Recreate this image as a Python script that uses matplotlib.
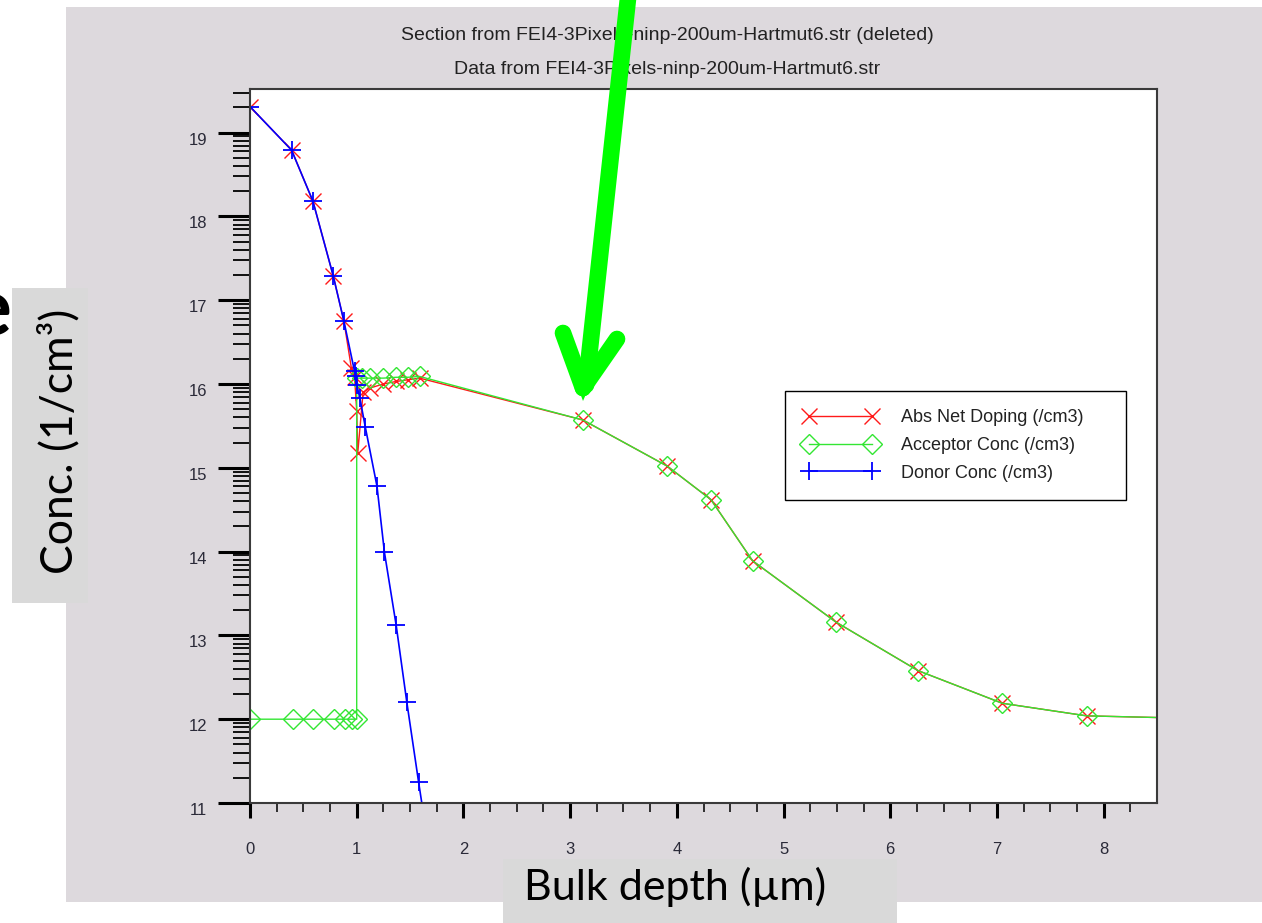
import matplotlib
matplotlib.use("Agg")
import matplotlib.pyplot as plt
import numpy as np
from matplotlib.lines import Line2D
from matplotlib.patches import Rectangle, Polygon

# doping profile along the cut line, log10 of concentration (1/cm3)
net_x = [0, 0.39, 0.59, 0.78, 0.88, 0.95, 0.98, 1.0, 1.01, 1.06, 1.12, 1.25,
         1.37, 1.48, 1.59, 3.12, 3.91, 4.32, 4.71, 5.49, 6.26, 7.05, 7.84, 8.5]
net_y = [19.31, 18.79, 18.18, 17.29, 16.75, 16.19, 16.08, 15.68, 15.18, 15.9,
         15.95, 16.0, 16.03, 16.05, 16.07, 15.57, 15.02, 14.62, 13.89, 13.16,
         12.58, 12.19, 12.04, 12.02]

acc_x = [0, 0.40, 0.59, 0.79, 0.89, 0.96, 1.0, 1.0, 1.05, 1.12, 1.25, 1.37,
         1.48, 1.59, 3.12, 3.91, 4.32, 4.71, 5.49, 6.26, 7.05, 7.84, 8.5]
acc_y = [12.0, 12.0, 12.0, 12.0, 12.0, 12.0, 12.0, 16.07, 16.07, 16.07, 16.07,
         16.08, 16.08, 16.09, 15.57, 15.02, 14.62, 13.89, 13.16, 12.58, 12.19,
         12.04, 12.02]

don_x = [0, 0.39, 0.59, 0.78, 0.88, 0.98, 0.99, 1.0, 1.03, 1.08, 1.19, 1.26,
         1.37, 1.47, 1.58, 1.67]
don_y = [19.31, 18.79, 18.18, 17.29, 16.75, 16.15, 16.09, 15.99, 15.83, 15.49,
         14.78, 13.99, 13.12, 12.2, 11.25, 10.5]

labels = ["Abs Net Doping (/cm3)", "Acceptor Conc (/cm3)", "Donor Conc (/cm3)"]
title_1 = "Section from FEI4-3Pixels-ninp-200um-Hartmut6.str (deleted)"
title_2 = "Data from FEI4-3Pixels-ninp-200um-Hartmut6.str"

W, H = 1262, 923


def px(x, y):
    # pixel position (from top-left) -> figure fraction
    return (x / W, 1 - y / H)


fig = plt.figure(figsize=(W / 100, H / 100), dpi=100)
fig.patch.set_facecolor("white")

# grey plot window behind the axes
fig.add_artist(Rectangle(px(66, 902), (W - 66) / W, (902 - 7) / H,
                         transform=fig.transFigure, facecolor="#ddd9dd",
                         edgecolor="none", zorder=-2))
# slide label boxes
fig.add_artist(Rectangle(px(12, 603), (88 - 12) / W, (603 - 288) / H,
                         transform=fig.transFigure, facecolor="#d9d9d9",
                         edgecolor="none", zorder=-1))
fig.add_artist(Rectangle(px(503, 923), (897 - 503) / W, (923 - 859) / H,
                         transform=fig.transFigure, facecolor="#d9d9d9",
                         edgecolor="none", zorder=-1))

ax = fig.add_axes([250 / W, 1 - 803 / H, (1157 - 250) / W, (803 - 89) / H])
ax.set_facecolor("white")

n = len(net_x)
ax.plot(net_x, net_y, color="#ff1a1a", lw=1, marker="x", ms=11, mew=1,
        markevery=slice(0, n - 1), label=labels[0])
ax.plot(acc_x, acc_y, color="#33e633", lw=1, marker="D", ms=10, mew=1,
        mfc="none", markevery=slice(0, len(acc_x) - 1), label=labels[1])
ax.plot(don_x, don_y, color="#0000ff", lw=1.2, marker="+", ms=13, mew=1.3,
        label=labels[2])

ax.set_xlim(0, 8.5)
ax.set_ylim(11, 19.52)

ax.set_xticks(np.arange(0, 9, 1))
ax.set_xticks(np.arange(0, 8.5, 0.25), minor=True)
ax.set_yticks(np.arange(11, 20, 1))
minor_y = [d + np.log10(k) for d in range(11, 20) for k in range(2, 10)]
ax.set_yticks([v for v in minor_y if v < 19.52], minor=True)

tick_font = dict(family="Liberation Sans", size=12)
ax.set_xticklabels([str(v) for v in range(0, 9)], fontdict=tick_font, color="#2a2a38")
ax.set_yticklabels([str(v) for v in range(11, 20)], fontdict=tick_font, color="#2a2a38")
for lab in ax.get_yticklabels():
    lab.set_verticalalignment("top")

ax.tick_params(axis="x", which="major", direction="out", length=11, width=2.2, pad=17)
ax.tick_params(axis="x", which="minor", direction="out", length=6.5, width=1.1)
ax.tick_params(axis="y", which="major", direction="out", length=23, width=2.2, pad=8)
ax.tick_params(axis="y", which="minor", direction="out", length=12, width=1.3)

for sp in ax.spines.values():
    sp.set_color("#3a3a3a")
    sp.set_linewidth(1.5)

leg = ax.legend(loc="upper left", bbox_to_anchor=(0.59, 0.424, 0.376, 0.153),
                mode="expand", numpoints=2,
                handlelength=4.1, handletextpad=1.3, labelspacing=0.6,
                borderpad=1.0, borderaxespad=0, fancybox=False, framealpha=1,
                edgecolor="black", prop=dict(family="Liberation Sans", size=13))
leg.get_frame().set_linewidth(1.0)
for t in leg.get_texts():
    t.set_color("#222222")

fig.text(*px(667, 35), title_1, ha="center", va="center", fontsize=14,
         family="Liberation Sans", color="#222222")
fig.text(*px(667, 70), title_2, ha="center", va="center", fontsize=14,
         family="Liberation Sans", color="#222222")

# slide axis labels
fig.text(*px(72, 441), "Conc. (1/cm³)", rotation=90, ha="center",
         va="baseline", rotation_mode="anchor", fontsize=32, family="Lato",
         color="black")
fig.text(*px(675, 900), "Bulk depth (µm)", ha="center", va="baseline",
         fontsize=31, family="Lato", color="black")
fig.text(*px(-10, 312), "e", ha="center", va="center", fontsize=58,
         family="Lato", weight="bold", color="black")

# green arrow pointing at the acceptor tail
green = "#00ff00"
arrow_lw = 12
for (x0, y0), (x1, y1) in [((630, -20), (586, 385)),
                           ((563, 333), (583, 388)),
                           ((617, 339), (583, 388))]:
    fig.add_artist(Line2D([x0 / W, x1 / W], [1 - y0 / H, 1 - y1 / H],
                          transform=fig.transFigure, color=green,
                          lw=arrow_lw, solid_capstyle="round", zorder=10))
fig.add_artist(Polygon([px(568, 360), px(600, 362), px(583, 401)],
                       closed=True, transform=fig.transFigure,
                       facecolor=green, edgecolor="none", zorder=10))

fig.savefig("out.png", dpi=100)
